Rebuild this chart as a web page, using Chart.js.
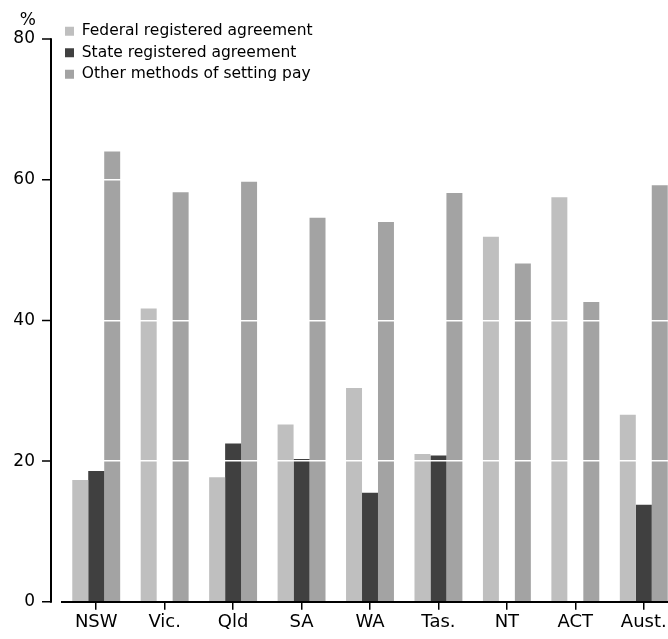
<!DOCTYPE html>
<html>
<head>
<meta charset="utf-8">
<script src="https://cdn.jsdelivr.net/npm/chart.js@4"></script>
<style>
  html, body { margin: 0; padding: 0; background: #fff; overflow: hidden; }
  canvas { display: block; }
</style>
</head>
<body>
<canvas id="chart" width="678" height="639"></canvas>
<script>
// --- data ---
const categories = ['NSW', 'Vic.', 'Qld', 'SA', 'WA', 'Tas.', 'NT', 'ACT', 'Aust.'];
const federal = [17.3, 41.7, 17.7, 25.2, 30.4, 21.0, 51.9, 57.5, 26.6];
const stateReg = [18.6, null, 22.5, 20.3, 15.5, 20.8, null, null, 13.8];
const other = [64.0, 58.2, 59.7, 54.6, 54.0, 58.1, 48.1, 42.6, 59.2];
const yTicks = [0, 20, 40, 60, 80];

const FONT = "'DejaVu Sans', sans-serif";

// y axis line sits a little left of the plot, and the legend overlaps the top
const axisExtras = {
  id: 'axisExtras',
  afterLayout(chart) {
    const legend = chart.legend;
    legend.left = chart.chartArea.left - 3;
    legend.top = 17.5;
  },
  afterDraw(chart) {
    const { ctx, scales: { y } } = chart;
    const ax = y.right - 11;
    ctx.save();
    ctx.strokeStyle = '#000';
    ctx.lineWidth = 2;
    ctx.beginPath();
    ctx.moveTo(ax, y.getPixelForValue(80) - 0.75);
    ctx.lineTo(ax, y.getPixelForValue(0) + 1);
    ctx.stroke();
    ctx.lineWidth = 1.5;
    ctx.beginPath();
    yTicks.forEach(v => {
      const py = y.getPixelForValue(v);
      ctx.moveTo(ax - 9, py);
      ctx.lineTo(ax, py);
    });
    ctx.stroke();
    ctx.fillStyle = '#000';
    ctx.font = '17px ' + FONT;
    ctx.textAlign = 'right';
    ctx.textBaseline = 'middle';
    ctx.fillText('%', y.right - 26, y.getPixelForValue(80) - 18);
    ctx.restore();
  }
};

new Chart(document.getElementById('chart'), {
  type: 'bar',
  data: {
    labels: categories,
    datasets: [
      { label: 'Federal registered agreement', data: federal, backgroundColor: '#bfbfbf' },
      { label: 'State registered agreement', data: stateReg, backgroundColor: '#404040' },
      { label: 'Other methods of setting pay', data: other, backgroundColor: '#a3a3a3' }
    ]
  },
  options: {
    responsive: false,
    animation: false,
    devicePixelRatio: 1,
    layout: { padding: { top: 39, right: 0, bottom: 0, left: 0 } },
    datasets: {
      bar: { categoryPercentage: 0.7, barPercentage: 1.0, borderWidth: 0 }
    },
    scales: {
      x: {
        offset: true,
        grid: {
          display: true,
          drawOnChartArea: false,
          drawTicks: true,
          tickLength: 8,
          offset: false,
          color: '#000',
          lineWidth: 1.5
        },
        border: { display: true, color: '#000', width: 2 },
        ticks: {
          color: '#000',
          font: { family: FONT, size: 18 },
          padding: 2,
          maxRotation: 0,
          autoSkip: false
        },
        afterFit(scale) { scale.height = 33.3; }
      },
      y: {
        min: 0,
        max: 80,
        ticks: {
          stepSize: 20,
          padding: 27,
          color: '#000',
          font: { family: FONT, size: 17 }
        },
        grid: {
          z: 1,
          drawTicks: false,
          lineWidth: 1.5,
          color: ctx => (ctx.tick && (ctx.tick.value === 0 || ctx.tick.value === 80))
            ? 'rgba(0,0,0,0)' : '#ffffff'
        },
        border: { display: false },
        afterFit(scale) { scale.width = 62; }
      }
    },
    plugins: {
      tooltip: { enabled: false },
      legend: {
        position: 'chartArea',
        align: 'start',
        labels: {
          boxWidth: 9,
          boxHeight: 9,
          padding: 6,
          color: '#000',
          font: { family: FONT, size: 15.5 }
        }
      }
    }
  },
  plugins: [axisExtras]
});
</script>
</body>
</html>
